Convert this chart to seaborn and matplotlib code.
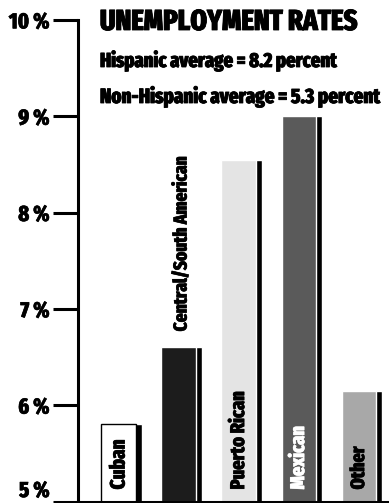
import matplotlib
matplotlib.use("Agg")
import os
import matplotlib.pyplot as plt
import matplotlib.transforms as mtransforms
import matplotlib.patheffects as pe
from matplotlib import font_manager as fm
import seaborn as sns
import pandas as pd

# Unemployment rates by origin group (percent)
groups = ["Cuban", "Central/South American", "Puerto Rican", "Mexican", "Other"]
rates = [5.8, 6.6, 8.55, 9.0, 6.15]
face_colors = ["#ffffff", "#1c1c1c", "#e4e4e4", "#5a5a5a", "#a8a8a8"]
label_colors = ["black", "black", "black", "white", "black"]
tick_values = [5, 6, 7, 8, 9, 10]
tick_labels = ["5 %", "6 %", "7 %", "8 %", "9 %", "10 %"]

title = "UNEMPLOYMENT RATES"
subtitles = ["Hispanic average = 8.2 percent",
             "Non-Hispanic average = 5.3 percent"]

sns.set_style("white")


def pick_narrow_bold():
    """Pick the most condensed heavy face among the installed fonts."""
    best, best_score = None, None
    for f in fm.fontManager.ttflist:
        fn = os.path.basename(f.fname).lower().replace("-", "").replace("_", "")
        name = f.name.lower()
        w = f.weight if isinstance(f.weight, int) else {"bold": 700}.get(f.weight, 400)
        if w < 600 or f.style != "normal":
            continue
        if "extracondensed" in fn or "extra condensed" in name:
            width_rank = 0
        elif "semicondensed" in fn or "semi condensed" in name:
            width_rank = 3
        elif "condensed" in fn or "condensed" in name or str(f.stretch) == "condensed":
            width_rank = 1
        elif "narrow" in fn or "narrow" in name:
            width_rank = 2
        else:
            continue
        weight_rank = abs(w - 800)
        score = (width_rank, weight_rank)
        if best_score is None or score < best_score:
            best, best_score = f, score
    if best is not None:
        return fm.FontProperties(fname=best.fname)
    return fm.FontProperties(family="DejaVu Sans", weight="bold", stretch="condensed")


FP = pick_narrow_bold()
plt.rcParams["text.color"] = "black"
plt.rcParams["ytick.color"] = "black"


def heavy(color, lw=0.4):
    # slightly thicken the glyph strokes
    return [pe.withStroke(linewidth=lw, foreground=color)]


W, H = 389, 503
fig = plt.figure(figsize=(W / 100, H / 100), dpi=100)
ax = fig.add_axes([78 / W, 1.5 / H, 1 - 78 / W, (503 - 1.5 - 20) / H])

df = pd.DataFrame({"group": groups, "rate": rates})

# black drop-shadow block behind each bar
sns.barplot(data=df, x="group", y="rate", order=groups, color="black",
            width=0.667, saturation=1, ax=ax, zorder=2)
n_shadow = len(ax.patches)

# coloured face, shifted left so the shadow shows on the right edge
sns.barplot(data=df, x="group", y="rate", order=groups, hue="group",
            hue_order=groups, palette=face_colors, width=0.567,
            saturation=1, legend=False, ax=ax, zorder=3)
for i, p in enumerate(ax.patches[n_shadow:]):
    p.set_x(p.get_x() - 0.05)
    if face_colors[i].lower() == "#ffffff":
        p.set_edgecolor("black")
        p.set_linewidth(1.0)

ax.set_xlim(-0.725, 4.458)
ax.set_ylim(5, 10)
ax.set_xlabel("")
ax.set_ylabel("")
ax.set_xticks([])
ax.set_yticks(tick_values)
ax.set_yticklabels(tick_labels)
ax.tick_params(axis="y", direction="out", length=18, width=2.2, pad=2.5,
               color="black", left=True)
for s in ["top", "right"]:
    ax.spines[s].set_visible(False)
for s in ["left", "bottom"]:
    ax.spines[s].set_color("black")
    ax.spines[s].set_linewidth(2.2)
    ax.spines[s].set_zorder(5)

renderer = fig.canvas.get_renderer()


def fit(txt, length_px, cap_pt, vertical=False):
    """Size a text so its long side is at most length_px, capped at cap_pt."""
    txt.set_fontsize(10)
    bb = txt.get_window_extent(renderer)
    cur = bb.height if vertical else bb.width
    txt.set_fontsize(min(10 * length_px / cur, cap_pt))


ylabels = ax.get_yticklabels()
for t in ylabels:
    t.set_fontproperties(FP)
fit(ylabels[-1], 41, 17)
for t in ylabels:
    t.set_fontsize(ylabels[-1].get_fontsize())
    t.set_path_effects(heavy("black"))
# the bottom label sits above the baseline so it stays inside the canvas
ylabels[0].set_va("bottom")

# rotated group names with their lengths along the bar
label_len = [50, 175, 98, 63, 43]
for i, (g, r, c) in enumerate(zip(groups, rates, label_colors)):
    if g == "Central/South American":
        off = mtransforms.offset_copy(ax.transData, fig=fig, x=0, y=16, units="dots")
        t = ax.text(i, r, g, rotation=90, ha="center", va="bottom",
                    fontproperties=FP, color=c, transform=off, zorder=6)
    else:
        off = mtransforms.offset_copy(ax.transData, fig=fig, x=-3, y=12, units="dots")
        t = ax.text(i, 5, g, rotation=90, ha="center", va="bottom",
                    fontproperties=FP, color=c, transform=off, zorder=6)
    fit(t, label_len[i], 15, vertical=True)
    t.set_path_effects(heavy(c))

t0 = fig.text(100 / W, 1 - 30 / H, title, fontproperties=FP,
              ha="left", va="baseline")
fit(t0, 256, 24)
t1 = fig.text(100 / W, 1 - 67 / H, subtitles[0], fontproperties=FP,
              ha="left", va="baseline")
fit(t1, 237, 17)
t2 = fig.text(100 / W, 1 - 103 / H, subtitles[1], fontproperties=FP,
              ha="left", va="baseline")
fit(t2, 280, 17)
for t in (t0, t1, t2):
    t.set_path_effects(heavy("black", 0.6))

fig.savefig("out.png", dpi=100)
